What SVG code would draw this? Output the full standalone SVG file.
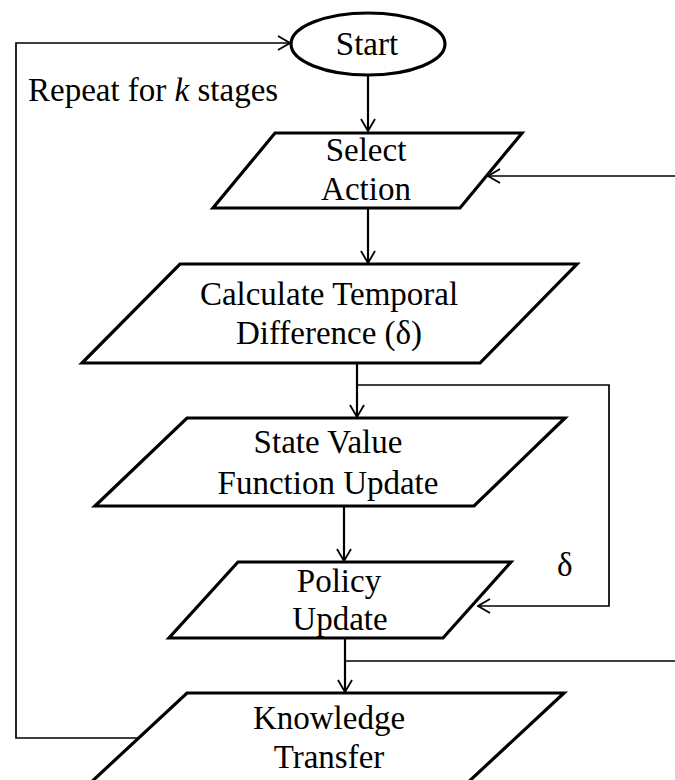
<svg xmlns="http://www.w3.org/2000/svg" width="675" height="780" viewBox="0 0 675 780">
<style>
.shape{fill:#fff;stroke:#000;stroke-width:3.2;stroke-linejoin:miter}
.arr{fill:none;stroke:#000;stroke-width:2.2}
.thin{fill:none;stroke:#000;stroke-width:1.7}
text{font-family:"Liberation Serif","Times New Roman",serif;font-size:33px;fill:#000}
.c{text-anchor:middle}
</style>
<defs>
<marker id="ah" viewBox="0 0 14 16" refX="13" refY="8" markerWidth="14" markerHeight="16" markerUnits="userSpaceOnUse" orient="auto">
<path d="M1,1 L13,8 L1,15" fill="none" stroke="#000" stroke-width="1.8"/>
</marker>
</defs>
<rect width="675" height="780" fill="#fff"/>
<g id="connectors">
<line class="arr" x1="368" y1="76" x2="368" y2="131" marker-end="url(#ah)"/>
<line class="arr" x1="368" y1="208" x2="368" y2="263" marker-end="url(#ah)"/>
<line class="arr" x1="357" y1="363" x2="357" y2="417" marker-end="url(#ah)"/>
<line class="arr" x1="344" y1="506" x2="344" y2="561" marker-end="url(#ah)"/>
<line class="arr" x1="345" y1="638" x2="345" y2="692" marker-end="url(#ah)"/>
<polyline class="thin" points="357,385 609,385 609,606 478,606" marker-end="url(#ah)"/>
<line class="thin" x1="675" y1="176" x2="488" y2="176" marker-end="url(#ah)"/>
<line class="thin" x1="345" y1="661" x2="675" y2="661"/>
<polyline class="thin" points="139,738 16,738 16,43 290,43" marker-end="url(#ah)"/>
</g>
<g id="start">
<ellipse class="shape" cx="368" cy="44" rx="77" ry="31"/>
<text class="c" x="367" y="55">Start</text>
</g>
<g id="select-action">
<polygon class="shape" points="275,133 522,133 460,208 213,208"/>
<text class="c" x="366" y="161">Select</text>
<text class="c" x="366" y="200">Action</text>
</g>
<g id="calc-td">
<polygon class="shape" points="180,264 577,264 480,363 82,363"/>
<text class="c" x="329" y="305">Calculate Temporal</text>
<text class="c" x="329" y="344">Difference (δ)</text>
</g>
<g id="state-value">
<polygon class="shape" points="187,418 565,418 474,506 95,506"/>
<text class="c" x="328" y="453">State Value</text>
<text class="c" x="328" y="494">Function Update</text>
</g>
<g id="policy-update">
<polygon class="shape" points="238,562 511,562 443,638 169,638"/>
<text class="c" x="339" y="592">Policy</text>
<text class="c" x="340" y="630">Update</text>
</g>
<g id="knowledge-transfer">
<polygon class="shape" points="187,693 564,693 449,800 72,800"/>
<text class="c" x="329" y="729">Knowledge</text>
<text class="c" x="329" y="768">Transfer</text>
</g>
<g id="labels">
<text x="28" y="101">Repeat for <tspan font-style="italic">k</tspan> stages</text>
<text x="557" y="576">δ</text>
</g>
</svg>
